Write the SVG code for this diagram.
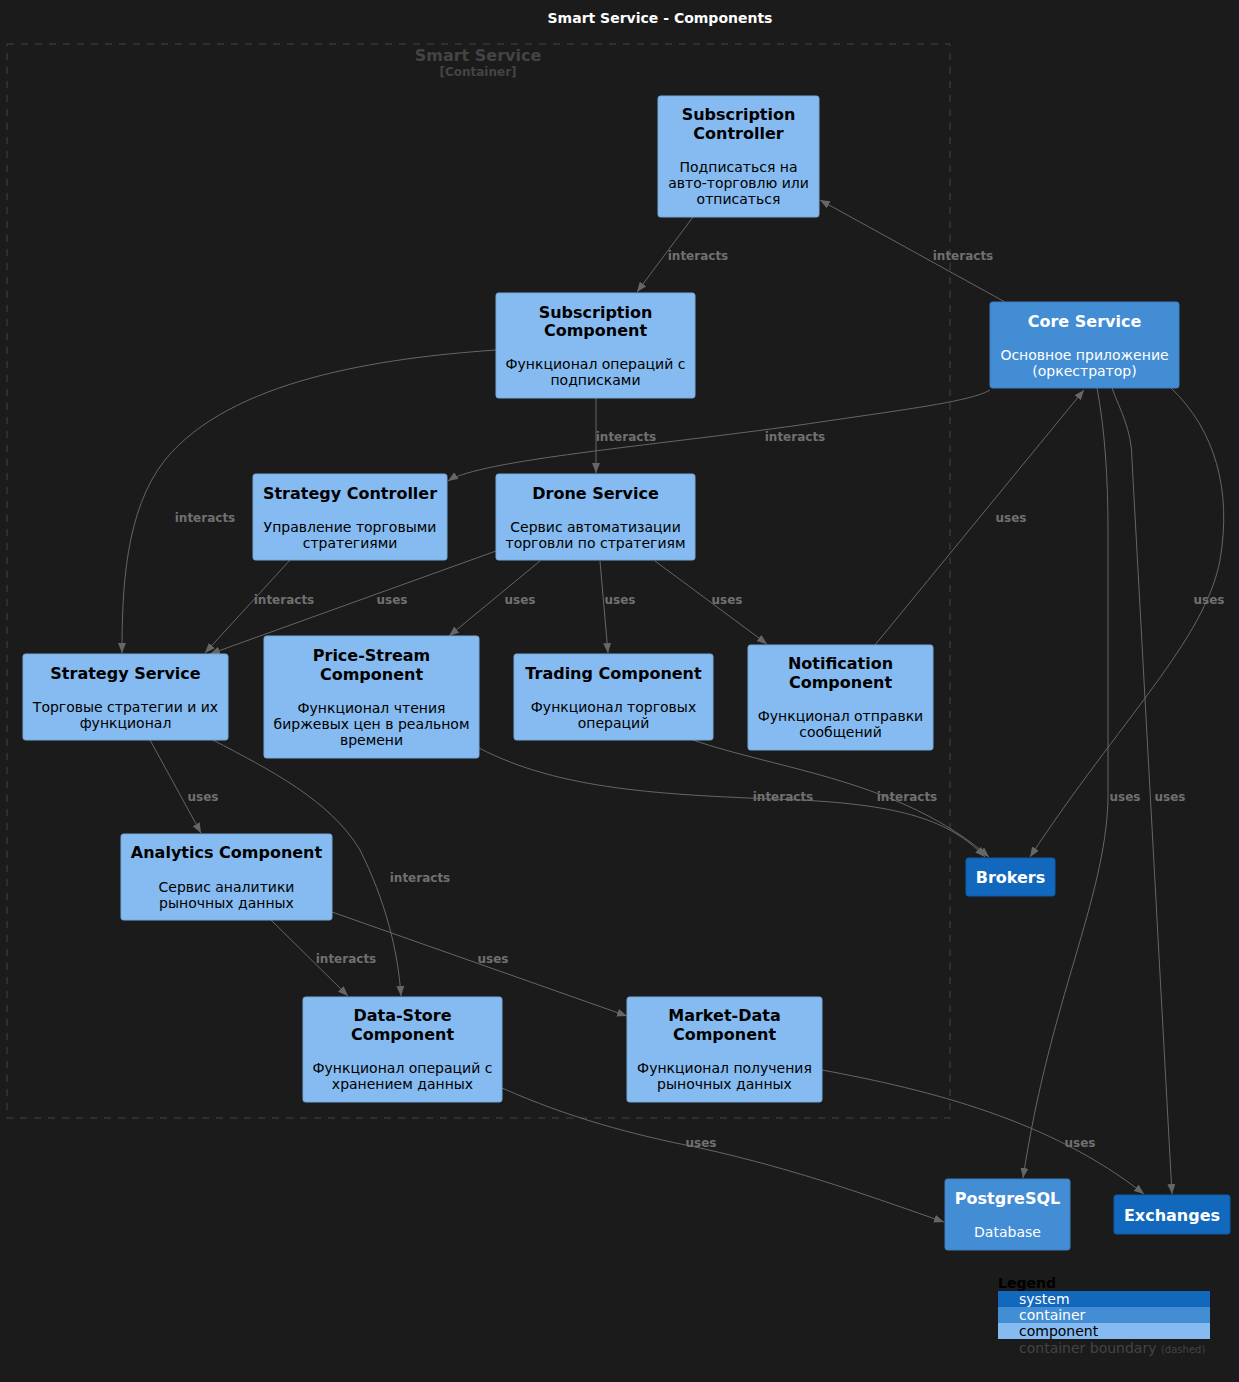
<svg xmlns="http://www.w3.org/2000/svg" width="1239" height="1382" viewBox="0 0 1239 1382">
<defs>
<marker id="ah" markerWidth="10" markerHeight="8" refX="10" refY="4" orient="auto" markerUnits="userSpaceOnUse">
<path d="M0,0 L10,4 L0,8 Z" fill="#666"/>
</marker>
<style>
text{font-family:"DejaVu Sans","Liberation Sans",sans-serif}
.t{font-size:16px;font-weight:bold;text-anchor:middle;fill:#000}
.d{font-size:14px;text-anchor:middle;fill:#000}
.tw{font-size:16px;font-weight:bold;text-anchor:middle;fill:#fff}
.dw{font-size:14px;text-anchor:middle;fill:#fff}
.comp{fill:#85bbf0;stroke:#78a8d8;stroke-width:1}
.cont{fill:#438dd5;stroke:#3c7fc0;stroke-width:1}
.sys{fill:#1168bd;stroke:#0f5eaa;stroke-width:1}
.e{fill:none;stroke:#666;stroke-width:1;marker-end:url(#ah)}
.l{font-size:12px;font-weight:bold;fill:#707070;text-anchor:middle}
</style>
</defs>
<rect width="1239" height="1382" fill="#1b1b1b"/>
<text x="660" y="23" style="font-size:14px;font-weight:bold;fill:#fff;text-anchor:middle">Smart Service - Components</text>

<g id="boundary">
<rect x="7" y="44" width="943" height="1074" fill="none" stroke="#444" stroke-width="1" stroke-dasharray="7,7"/>
<text x="478" y="61" style="font-size:16px;font-weight:bold;fill:#444;text-anchor:middle">Smart Service</text>
<text x="478" y="76" style="font-size:12px;font-weight:bold;fill:#444;text-anchor:middle">[Container]</text>
</g>

<g id="connectors">
<path class="e" d="M1005,302 L820,200"/>
<text class="l" x="963" y="260">interacts</text>
<path class="e" d="M693,217 L637,292"/>
<text class="l" x="698" y="260">interacts</text>
<path class="e" d="M496,350 C380,358 230,380 165,460 C125,510 122,590 122,653"/>
<text class="l" x="205" y="522">interacts</text>
<path class="e" d="M596,398 L596,473"/>
<text class="l" x="626" y="441">interacts</text>
<path class="e" d="M990,390 C970,402 900,410 800,425 C650,446 480,460 448,481"/>
<text class="l" x="795" y="441">interacts</text>
<path class="e" d="M290,560 L205,653"/>
<text class="l" x="284" y="604">interacts</text>
<path class="e" d="M496,551 L210,654"/>
<text class="l" x="392" y="604">uses</text>
<path class="e" d="M540,561 L449,636"/>
<text class="l" x="520" y="604">uses</text>
<path class="e" d="M600,561 L608,653"/>
<text class="l" x="620" y="604">uses</text>
<path class="e" d="M655,561 L767,644"/>
<text class="l" x="727" y="604">uses</text>
<path class="e" d="M875,645 L1084,390"/>
<text class="l" x="1011" y="522">uses</text>
<path class="e" d="M1171,388 C1215,430 1232,490 1220,560 C1205,640 1120,720 1030,857"/>
<text class="l" x="1209" y="604">uses</text>
<path class="e" d="M1097,388 C1105,430 1108,480 1108,530 L1108,800 C1105,900 1050,1000 1023,1178"/>
<text class="l" x="1125" y="801">uses</text>
<path class="e" d="M1112,388 C1120,410 1132,430 1132,460 L1172,1194"/>
<text class="l" x="1170" y="801">uses</text>
<path class="e" d="M479,748 C560,790 660,795 800,800 C900,805 950,820 985,857"/>
<text class="l" x="783" y="801">interacts</text>
<path class="e" d="M693,740 C780,770 900,780 989,857"/>
<text class="l" x="907" y="801">interacts</text>
<path class="e" d="M150,740 L201,833"/>
<text class="l" x="203" y="801">uses</text>
<path class="e" d="M213,740 C270,770 330,800 360,850 C385,900 398,950 401,996"/>
<text class="l" x="420" y="882">interacts</text>
<path class="e" d="M271,920 L348,996"/>
<text class="l" x="346" y="963">interacts</text>
<path class="e" d="M332,912 L627,1016"/>
<text class="l" x="493" y="963">uses</text>
<path class="e" d="M502,1088 C570,1118 630,1134 700,1148 C800,1170 880,1200 944,1222"/>
<text class="l" x="701" y="1147">uses</text>
<path class="e" d="M822,1070 C930,1090 1050,1120 1144,1194"/>
<text class="l" x="1080" y="1147">uses</text>
</g>

<g id="subscription-controller">
<rect class="comp" x="658" y="96" width="161" height="121" rx="2.5"/>
<text class="t" x="738.5" y="120">Subscription</text>
<text class="t" x="738.5" y="139">Controller</text>
<text class="d" x="738.5" y="172">Подписаться на</text>
<text class="d" x="738.5" y="188">авто-торговлю или</text>
<text class="d" x="738.5" y="204">отписаться</text>
</g>

<g id="subscription-component">
<rect class="comp" x="496" y="293" width="199" height="105" rx="2.5"/>
<text class="t" x="595.5" y="318">Subscription</text>
<text class="t" x="595.5" y="336">Component</text>
<text class="d" x="595.5" y="369">Функционал операций с</text>
<text class="d" x="595.5" y="385">подписками</text>
</g>

<g id="core-service">
<rect class="cont" x="990" y="302" width="189" height="86" rx="2.5"/>
<text class="tw" x="1084.5" y="327">Core Service</text>
<text class="dw" x="1084.5" y="360">Основное приложение</text>
<text class="dw" x="1084.5" y="376">(оркестратор)</text>
</g>

<g id="strategy-controller">
<rect class="comp" x="253" y="474" width="194" height="86" rx="2.5"/>
<text class="t" x="350" y="499">Strategy Controller</text>
<text class="d" x="350" y="532">Управление торговыми</text>
<text class="d" x="350" y="548">стратегиями</text>
</g>

<g id="drone-service">
<rect class="comp" x="496" y="474" width="199" height="86" rx="2.5"/>
<text class="t" x="595.5" y="499">Drone Service</text>
<text class="d" x="595.5" y="532">Сервис автоматизации</text>
<text class="d" x="595.5" y="548">торговли по стратегиям</text>
</g>

<g id="strategy-service">
<rect class="comp" x="23" y="654" width="205" height="86" rx="2.5"/>
<text class="t" x="125.5" y="679">Strategy Service</text>
<text class="d" x="125.5" y="712">Торговые стратегии и их</text>
<text class="d" x="125.5" y="728">функционал</text>
</g>

<g id="price-stream-component">
<rect class="comp" x="264" y="636" width="215" height="122" rx="2.5"/>
<text class="t" x="371.5" y="661">Price-Stream</text>
<text class="t" x="371.5" y="680">Component</text>
<text class="d" x="371.5" y="713">Функционал чтения</text>
<text class="d" x="371.5" y="729">биржевых цен в реальном</text>
<text class="d" x="371.5" y="745">времени</text>
</g>

<g id="trading-component">
<rect class="comp" x="514" y="654" width="199" height="86" rx="2.5"/>
<text class="t" x="613.5" y="679">Trading Component</text>
<text class="d" x="613.5" y="712">Функционал торговых</text>
<text class="d" x="613.5" y="728">операций</text>
</g>

<g id="notification-component">
<rect class="comp" x="748" y="645" width="185" height="105" rx="2.5"/>
<text class="t" x="840.5" y="669">Notification</text>
<text class="t" x="840.5" y="688">Component</text>
<text class="d" x="840.5" y="721">Функционал отправки</text>
<text class="d" x="840.5" y="737">сообщений</text>
</g>

<g id="brokers">
<rect class="sys" x="966" y="858" width="89" height="38" rx="2.5"/>
<text class="tw" x="1010.5" y="883">Brokers</text>
</g>

<g id="analytics-component">
<rect class="comp" x="121" y="834" width="211" height="86" rx="2.5"/>
<text class="t" x="226.5" y="858">Analytics Component</text>
<text class="d" x="226.5" y="892">Сервис аналитики</text>
<text class="d" x="226.5" y="908">рыночных данных</text>
</g>

<g id="data-store-component">
<rect class="comp" x="303" y="997" width="199" height="105" rx="2.5"/>
<text class="t" x="402.5" y="1021">Data-Store</text>
<text class="t" x="402.5" y="1040">Component</text>
<text class="d" x="402.5" y="1073">Функционал операций с</text>
<text class="d" x="402.5" y="1089">хранением данных</text>
</g>

<g id="market-data-component">
<rect class="comp" x="627" y="997" width="195" height="105" rx="2.5"/>
<text class="t" x="724.5" y="1021">Market-Data</text>
<text class="t" x="724.5" y="1040">Component</text>
<text class="d" x="724.5" y="1073">Функционал получения</text>
<text class="d" x="724.5" y="1089">рыночных данных</text>
</g>

<g id="postgresql">
<rect class="cont" x="945" y="1179" width="125" height="71" rx="2.5"/>
<text class="tw" x="1007.5" y="1204">PostgreSQL</text>
<text class="dw" x="1007.5" y="1237">Database</text>
</g>

<g id="exchanges">
<rect class="sys" x="1114" y="1195" width="116" height="39" rx="2.5"/>
<text class="tw" x="1172" y="1221">Exchanges</text>
</g>

<g id="legend">
<text x="998" y="1288" style="font-size:14px;font-weight:bold;fill:#000">Legend</text>
<rect x="998" y="1291" width="212" height="16" fill="#1168bd"/>
<rect x="998" y="1307" width="212" height="16" fill="#438dd5"/>
<rect x="998" y="1323" width="212" height="16" fill="#85bbf0"/>
<text x="1019" y="1304" style="font-size:14px;fill:#fff">system</text>
<text x="1019" y="1320" style="font-size:14px;fill:#fff">container</text>
<text x="1019" y="1336" style="font-size:14px;fill:#000">component</text>
<text x="1019" y="1353" style="font-size:14px;fill:#444">container boundary <tspan style="font-size:10px">(dashed)</tspan></text>
</g>
</svg>
